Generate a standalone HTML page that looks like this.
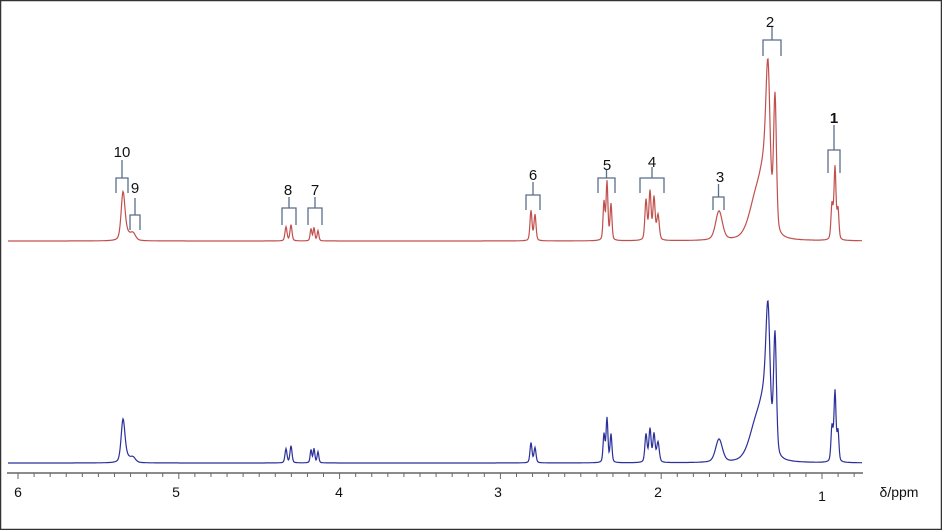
<!DOCTYPE html>
<html><head><style>
body{margin:0;background:#fff}
svg{display:block}
text{font-family:"Liberation Sans",sans-serif;fill:#111}
</style></head><body>
<svg id="s" width="942" height="530" viewBox="0 0 942 530">
<rect x="0.5" y="0.5" width="941" height="529" fill="#fff" stroke="#333" stroke-width="1.5"/>
<path id="red" fill="none" stroke="#c0504d" stroke-width="1.2"/>
<path id="blue" fill="none" stroke="#2b2f9a" stroke-width="1.2"/>
<line x1="7" y1="473" x2="863" y2="473" stroke="#666" stroke-width="1.5"/>
<g id="ticks" stroke="#666" stroke-width="1"></g>
<g font-size="14" text-anchor="middle">
<text x="18" y="497">6</text><text x="176" y="497">5</text><text x="339" y="497">4</text>
<text x="498" y="497">3</text><text x="658" y="497">2</text><text x="822" y="501">1</text>
<text x="899" y="497">δ/ppm</text>
</g>
<g fill="none" stroke="#5a6e8a" stroke-width="1.3" id="br"></g>
<g font-size="15" text-anchor="middle" id="lb"></g>
</svg>
<script>
function L(x,c,w){var u=(x-c)/w;return 0.35/(1+u*u)+0.65*Math.exp(-0.69*u*u);}
var peaks=[
 [123,2.2,44,40],[126,4,8,6],[133,3,7,5],
 [286,1.2,14,14],[291,1.2,16,17],
 [311,1,12,13],[314,1,13,14],[318,1,10,11],
 [531,1.2,30,20],[535,1.2,26,15],
 [604,1.1,38,28],[607,1.1,58,44],[611,1.1,36,28],
 [646,1.3,40,28],[650,1.3,48,33],[654,1.3,42,28],[658,1.5,25,20],
 [719,4,29,23],
 [758,9,50,45],[768,2.5,140,125],[775,1.7,135,120],[764,4,35,30],
 [832,1.2,35,35],[835,1.2,72,70],[838,1.1,30,30]
];
function path(base,idx){var d="";for(var x=8;x<=862;x+=0.5){var y=0;for(var i=0;i<peaks.length;i++)y+=peaks[i][idx]*L(x,peaks[i][0],peaks[i][1]);d+=(x==8?"M":"L")+x+","+(base-y).toFixed(1);}return d;}
document.getElementById("red").setAttribute("d",path(241,2));
document.getElementById("blue").setAttribute("d",path(463,3));
var t="";for(var p=6.0;p>=0.75;p-=0.1){var x=18+(6-p)*160.8;var major=Math.abs(p-Math.round(p))<0.01;t+='<line x1="'+x+'" y1="473" x2="'+x+'" y2="'+(major?479:477)+'"/>';}
document.getElementById("ticks").innerHTML=t;
var B=[["10",122,152,160,116,128,178,193],["9",135,188,198,130,140,215,230],["8",288,190,197,282,296,208,225],["7",315,190,197,308,322,208,225],["6",533,175,182,526,540,195,210],["5",607,165,170,598,615,178,193],["4",652,162,167,640,664,178,193],["3",720,177,184,713,724,197,210],["2",770,22,27,763,781,40,56],["1",834,118,125,828,840,150,173]];
var b="",l="";B.forEach(function(a){var cx=(a[4]+a[5])/2;b+='<path d="M'+cx+','+a[3]+'V'+a[6]+'M'+a[4]+','+a[7]+'V'+a[6]+'H'+a[5]+'V'+a[7]+'"/>';l+='<text x="'+a[1]+'" y="'+(a[2]+5)+'"'+(a[0]=="1"?' font-weight="bold"':'')+'>'+a[0]+'</text>';});
document.getElementById("br").innerHTML=b;document.getElementById("lb").innerHTML=l;
</script>
</body></html>
